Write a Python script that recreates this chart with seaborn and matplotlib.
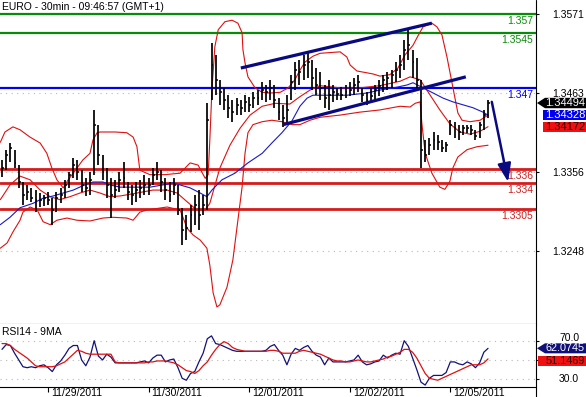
import numpy as np
import pandas as pd
import seaborn as sns
import matplotlib
matplotlib.use('Agg')
import matplotlib.pyplot as plt
from matplotlib.patches import Polygon
from matplotlib.lines import Line2D
from matplotlib.transforms import blended_transform_factory, offset_copy

sns.set_theme(style='white')
plt.rcParams['font.family'] = ['Liberation Sans', 'DejaVu Sans']

# ---------------- data ----------------
title = 'EURO - 30min - 09:46:57 (GMT+1)'
rsi_title = 'RSI14 - 9MA'
day_ticks = [11, 35, 59, 83, 107]
day_labels = ['11/29/2011', '11/30/2011', '12/01/2011', '12/02/2011', '12/05/2011']
price_ticks = [1.3571, 1.3463, 1.3356, 1.3248]
price_tick_labels = ['1.3571', '1.3463', '1.3356', '1.3248']
rsi_grid = [30, 50, 70]
rsi_label_vals = [30, 70]
rsi_tick_labels = ['30.0', '70.0']

high = [1.3372,1.3386,1.3395,1.3386,1.3365,1.3342,1.3338,1.3334,1.3331,1.3327,
        1.3324,1.3328,1.3320,1.3328,1.3334,1.3345,1.3356,1.3375,1.3372,1.3358,
        1.3347,1.3356,1.3440,1.3420,1.3379,1.3361,1.3347,1.3345,1.3356,1.3369,
        1.3342,1.3338,1.3342,1.3345,1.3352,1.3347,1.3361,1.3369,1.3358,1.3347,
        1.3342,1.3347,1.3338,1.3307,1.3297,1.3311,1.3324,1.3331,1.3324,1.3449,
        1.3531,1.3515,1.3481,1.3470,1.3460,1.3454,1.3456,1.3454,1.3460,1.3458,
        1.3464,1.3467,1.3478,1.3474,1.3481,1.3474,1.3456,1.3447,1.3460,1.3488,
        1.3505,1.3508,1.3515,1.3519,1.3508,1.3497,1.3492,1.3474,1.3481,1.3474,
        1.3470,1.3471,1.3474,1.3478,1.3483,1.3488,1.3470,1.3464,1.3470,1.3474,
        1.3481,1.3488,1.3492,1.3494,1.3505,1.3515,1.3535,1.3549,1.3522,1.3511,
        1.3481,1.3399,1.3402,1.3410,1.3406,1.3399,1.3396,1.3426,1.3424,1.3420,
        1.3420,1.3420,1.3420,1.3413,1.3424,1.3440,1.3454]
low = [1.3349,1.3358,1.3369,1.3361,1.3334,1.3311,1.3318,1.3315,1.3301,1.3308,
       1.3309,1.3311,1.3284,1.3301,1.3313,1.3320,1.3334,1.3347,1.3345,1.3328,
       1.3323,1.3324,1.3352,1.3365,1.3345,1.3320,1.3293,1.3320,1.3328,1.3334,
       1.3318,1.3311,1.3315,1.3320,1.3324,1.3324,1.3338,1.3345,1.3328,1.3318,
       1.3315,1.3324,1.3297,1.3256,1.3263,1.3274,1.3284,1.3277,1.3297,1.3304,
       1.3454,1.3460,1.3447,1.3440,1.3429,1.3424,1.3433,1.3433,1.3437,1.3437,
       1.3443,1.3447,1.3454,1.3451,1.3454,1.3443,1.3426,1.3417,1.3420,1.3454,
       1.3467,1.3474,1.3481,1.3483,1.3467,1.3460,1.3454,1.3443,1.3440,1.3451,
       1.3454,1.3454,1.3456,1.3459,1.3460,1.3464,1.3451,1.3447,1.3449,1.3454,
       1.3459,1.3464,1.3467,1.3470,1.3478,1.3483,1.3494,1.3508,1.3483,1.3467,
       1.3361,1.3369,1.3379,1.3386,1.3386,1.3383,1.3383,1.3406,1.3402,1.3399,
       1.3406,1.3409,1.3406,1.3399,1.3402,1.3413,1.3429]
close = [1.3361,1.3379,1.3388,1.3368,1.3342,1.3324,1.3328,1.3320,1.3318,1.3318,
         1.3320,1.3318,1.3304,1.3320,1.3324,1.3338,1.3352,1.3365,1.3356,1.3338,
         1.3334,1.3345,1.3420,1.3379,1.3356,1.3338,1.3324,1.3331,1.3345,1.3347,
         1.3328,1.3324,1.3331,1.3334,1.3338,1.3338,1.3352,1.3356,1.3342,1.3331,
         1.3324,1.3338,1.3304,1.3277,1.3279,1.3297,1.3311,1.3297,1.3311,1.3426,
         1.3501,1.3481,1.3464,1.3454,1.3443,1.3437,1.3447,1.3443,1.3451,1.3447,
         1.3456,1.3456,1.3467,1.3464,1.3470,1.3454,1.3437,1.3429,1.3440,1.3478,
         1.3494,1.3492,1.3501,1.3505,1.3483,1.3474,1.3470,1.3456,1.3460,1.3464,
         1.3462,1.3460,1.3464,1.3467,1.3474,1.3478,1.3460,1.3454,1.3459,1.3467,
         1.3473,1.3481,1.3483,1.3488,1.3494,1.3501,1.3522,1.3528,1.3505,1.3481,
         1.3386,1.3379,1.3392,1.3399,1.3396,1.3388,1.3392,1.3420,1.3415,1.3410,
         1.3415,1.3415,1.3413,1.3405,1.3420,1.3433,1.34494]

# Bollinger bands (red) read at sample positions (bar index)
up_x = [-0.4,0.7,2.6,4.3,6.7,9.1,10.7,11.9,13.1,14.6,15.8,17.0,19.3,21.0,21.7,22.7,23.4,27.0,29.8,31.3,
        32.2,32.9,35.3,38.9,42.5,44.9,46.8,48.5,49.2,49.6,50.1,50.8,51.6,53.2,54.9,56.3,57.3,57.5,58.0,58.7,
        60.4,62.1,64.0,66.4,68.3,69.9,71.1,72.3,74.2,75.9,80.7,82.3,83.1,84.7,88.5,90.2,92.6,94.5,96.2,98.1,
        99.3,100.5,102.6,103.8,105.0,106.2,107.6,108.8,109.8,111.7,114.1,116.0]
up_y = [1.3396,1.3410,1.3417,1.3413,1.3403,1.3395,1.3381,1.3361,1.3345,1.3334,1.3345,1.3354,1.3372,1.3381,1.3399,1.3409,1.3410,1.3410,1.3409,1.3403,
        1.3390,1.3358,1.3352,1.3352,1.3354,1.3368,1.3365,1.3347,1.3352,1.3399,1.3467,1.3526,1.3549,1.3560,1.3562,1.3558,1.3545,1.3522,1.3504,1.3485,
        1.3470,1.3464,1.3463,1.3464,1.3470,1.3481,1.3494,1.3505,1.3513,1.3517,1.3519,1.3512,1.3501,1.3493,1.3489,1.3486,1.3488,1.3497,1.3515,1.3528,
        1.3541,1.3553,1.3558,1.3553,1.3542,1.3512,1.3471,1.3436,1.3426,1.3424,1.3426,1.3433]
lo_x = [-0.4,1.2,2.6,4.3,5.0,6.7,8.4,9.8,11.5,13.1,15.5,17.9,21.0,24.1,26.5,29.8,31.3,32.9,34.6,39.4,
        42.5,44.2,45.6,47.3,48.9,49.6,50.4,51.3,52.0,53.7,55.1,56.3,57.3,58.0,58.7,59.9,62.1,64.4,66.8,69.2,
        71.1,73.5,75.9,80.7,85.4,90.2,95.0,97.4,98.6,99.8,100.2,101.0,102.6,104.5,105.7,106.9,107.6,108.8,111.0,113.4,
        116.0]
lo_y = [1.3252,1.3259,1.3274,1.3290,1.3301,1.3308,1.3304,1.3288,1.3284,1.3290,1.3293,1.3290,1.3289,1.3293,1.3294,1.3293,1.3290,1.3301,1.3304,1.3308,
        1.3304,1.3279,1.3270,1.3263,1.3252,1.3229,1.3191,1.3172,1.3175,1.3199,1.3236,1.3290,1.3335,1.3381,1.3409,1.3420,1.3424,1.3426,1.3424,1.3420,
        1.3420,1.3426,1.3430,1.3433,1.3437,1.3440,1.3445,1.3444,1.3449,1.3451,1.3422,1.3381,1.3354,1.3335,1.3332,1.3343,1.3361,1.3376,1.3386,1.3390,
        1.3392]
mid_x = [-0.4,1.9,4.3,6.7,9.1,11.5,13.8,16.2,18.6,21.0,23.4,25.8,28.2,32.2,36.0,39.4,41.8,44.2,46.5,48.5,
         49.6,52.0,54.4,56.8,59.2,62.1,65.2,68.7,71.1,73.5,75.9,80.7,85.4,90.2,95.0,97.4,99.8,102.2,104.5,106.9,
         109.3,111.7,114.1,116.0]
mid_y = [1.3318,1.3338,1.3350,1.3345,1.3331,1.3322,1.3318,1.3322,1.3327,1.3331,1.3327,1.3322,1.3323,1.3327,1.3331,1.3331,1.3327,1.3315,1.3304,1.3304,
         1.3313,1.3361,1.3392,1.3415,1.3433,1.3445,1.3449,1.3448,1.3458,1.3467,1.3473,1.3470,1.3470,1.3473,1.3479,1.3485,1.3481,1.3460,1.3440,1.3421,
         1.3410,1.3407,1.3411,1.34172]
# Moving average (blue)
ma_x = [-0.4,1.9,4.3,7.4,9.8,12.2,14.6,17.0,19.3,21.7,24.1,25.8,28.2,31.3,35.3,39.4,40.8,42.5,44.9,47.3,
        48.9,50.1,52.5,55.6,58.7,62.1,64.4,66.8,69.2,71.1,72.8,74.2,78.3,82.3,87.1,90.2,94.3,96.7,98.1,100.5,
        102.9,105.3,107.6,110.0,112.4,114.8,116.0]
ma_y = [1.3284,1.3294,1.3307,1.3313,1.3320,1.3323,1.3327,1.3331,1.3337,1.3342,1.3342,1.3338,1.3335,1.3335,1.3335,1.3339,1.3341,1.3338,1.3334,1.3327,
        1.3322,1.3331,1.3345,1.3354,1.3368,1.3381,1.3395,1.3409,1.3425,1.3445,1.3456,1.3460,1.3460,1.3460,1.3463,1.3467,1.3471,1.3474,1.3477,1.3470,
        1.3463,1.3456,1.3451,1.3447,1.3443,1.3437,1.34328]

rsi = [61,66,65,57,50,43,42,43,42,44,
       45,42,38,45,49,55,62,65,65,50,
       44,53,70,54,50,56,53,47,47,47,
       47,47,47,48,49,47,52,55,55,48,
       50,51,42,31,29,36,38,48,57,72,
       75,67,66,64,62,60,59,59,59,59,
       59,59,59,60,64,66,60,55,45,56,
       62,60,63,65,59,55,53,45,52,48,
       48,48,48,49,50,55,48,45,46,48,
       49,55,52,55,57,56,70,64,52,40,
       27,24,31,34,34,34,37,48,48,46,
       45,48,46,42,47,58,62.0745]
rsi_ma = [67,67,65,61,58,55,52,48,44,43,
          43,43,43,44,46,48,52,56,60,59,
          57,56,56,56,56,56,56,48,47,47,
          47,47,47,47,47,48,48,49,49,49,
          48,47,45,42,39,38,36,39,44,48,
          55,61,66,69,67,63,61,60,59,59,
          59,59,59,59,60,60,59,57,57,57,
          57,59,60,59,58,57,56,54,52,50,
          49,49,48,48,49,50,49,48,48,49,
          50,51,53,54,56,58,61,61,58,52,
          44,36,31,30,29,31,33,35,37,39,
          41,43,45,45,45,47,51.1469]

levels = [1.357, 1.3545, 1.347, 1.336, 1.334, 1.3305]
level_labels = ['1.357', '1.3545', '1.347', '1.336', '1.334', '1.3305']
level_colors = ['#0a8a0a', '#0a8a0a', '#0000ee', '#d41c1c', '#d41c1c', '#d41c1c']

trend_up = ([57.0, 102.6], [1.3497, 1.3558])
trend_lo = ([67.1, 110.7], [1.3420, 1.3485])
arrow_from = (116.9, 1.3451)
arrow_to = (120.8, 1.3342)

# ---------------- layout ----------------
W, H = 586, 397
YTOP, YBOT = 1.35895, 1.31489
RTOP, RBOT = 87.3, 22.3
XL, XR = -0.48, 127.45

fig = plt.figure(figsize=(W / 100, H / 100), dpi=100)
fig.patch.set_facecolor('white')
ax = fig.add_axes([0, 1 - 324 / H, 536 / W, 324 / H])
ax2 = fig.add_axes([0, 1 - 386.7 / H, 536 / W, 62.7 / H])

for a in (ax, ax2):
    a.set_facecolor('white')
    for s in a.spines.values():
        s.set_visible(False)
    a.spines['bottom'].set_visible(True)
    a.spines['bottom'].set_color('black')
    a.spines['bottom'].set_linewidth(0.8)
    a.set_xlim(XL, XR)
    a.set_axisbelow(True)

ax.set_ylim(YBOT, YTOP)
ax2.set_ylim(RBOT, RTOP)

idx = np.arange(len(close))

# grid
dots = (0, (1, 4))
ax.set_yticks(price_ticks)
ax.set_yticklabels(price_tick_labels)
ax.grid(axis='y', color='#b8b8b8', linestyle=dots, lw=0.8)
ax.grid(axis='x', visible=False)
ax2.set_yticks(rsi_grid)
ax2.set_yticklabels([])
ax2.grid(axis='y', color='#b8b8b8', linestyle=dots, lw=0.8)
ax2.grid(axis='x', visible=False)

ax.yaxis.tick_right()
ax.tick_params(axis='y', right=True, left=False, labelright=True, labelleft=False,
               length=2.5, width=0.8, pad=9.5, labelsize=7.5, colors='black')
ax2.yaxis.tick_right()
ax2.tick_params(axis='y', right=True, left=False, labelright=False, labelleft=False,
                length=2.5, width=0.8, colors='black')
for v, lab in zip(rsi_label_vals, rsi_tick_labels):
    dy = 3 if v == 70 else 0
    ax2.annotate(lab, xy=(1, v), xycoords=('axes fraction', 'data'), xytext=(23, dy),
                 textcoords='offset pixels', ha='left', va='center', fontsize=7.5,
                 color='black', annotation_clip=False)

ax.set_xticks([])
ax2.set_xticks(day_ticks)
ax2.set_xticklabels([])
ax2.tick_params(axis='x', bottom=True, length=3.5, width=0.8, color='black')
for t, lab in zip(day_ticks, day_labels):
    ax2.annotate(lab, xy=(t, 0), xycoords=('data', 'axes fraction'), xytext=(3, -1),
                 textcoords='offset pixels', ha='left', va='top', fontsize=7.5, color='black',
                 annotation_clip=False)

# horizontal levels
for v, lab, c in zip(levels, level_labels, level_colors):
    lw = 2.0 if c == '#d41c1c' else 1.6
    ax.axhline(v, color=c, lw=lw, zorder=1.5)
    ax.annotate(lab, xy=(1, v), xycoords=('axes fraction', 'data'), xytext=(-3, -2),
                textcoords='offset pixels', ha='right', va='top', fontsize=7.5, color=c)

# bands and moving average
band_kw = dict(ax=ax, color='#e01010', lw=0.8, estimator=None, sort=False, legend=False, zorder=2)
sns.lineplot(x=up_x, y=up_y, **band_kw)
sns.lineplot(x=lo_x, y=lo_y, **band_kw)
sns.lineplot(x=mid_x, y=mid_y, **band_kw)
sns.lineplot(x=ma_x, y=ma_y, ax=ax, color='#1a1ac8', lw=0.8, estimator=None, sort=False,
             legend=False, zorder=2.2)

# price bars
ax.vlines(idx, low, high, color='black', lw=1.25, zorder=3)
ax.hlines(close, idx, idx + 0.45, color='black', lw=1.1, zorder=3)

# trendlines and arrow
ax.plot(*trend_up, color='#0a0a80', lw=2.3, solid_capstyle='butt', zorder=4)
ax.plot(*trend_lo, color='#0a0a80', lw=2.3, solid_capstyle='butt', zorder=4)
ax.annotate('', xy=arrow_to, xytext=arrow_from, annotation_clip=False,
            arrowprops=dict(arrowstyle='-|>,head_length=0.55,head_width=0.2', color='#0a0a80',
                            lw=1.8, mutation_scale=20, shrinkA=0, shrinkB=0), zorder=4)

# RSI panel
sns.lineplot(x=idx, y=rsi, ax=ax2, color='#12127a', lw=0.9, estimator=None, sort=False, legend=False)
sns.lineplot(x=idx, y=rsi_ma, ax=ax2, color='#e01010', lw=0.9, estimator=None, sort=False, legend=False)
for a in (ax, ax2):
    a.set_xlabel('')
    a.set_ylabel('')

# texts
fig.text(2 / W, 1 - 6.5 / H, title, ha='left', va='center', fontsize=7.5, color='black')
fig.text(2 / W, 1 - 332 / H, rsi_title, ha='left', va='center', fontsize=7.5, color='black')

# full-height right border
fig.add_artist(Line2D([536 / W, 536 / W], [0, 1], color='black', lw=0.8))

# value boxes
tr_p = blended_transform_factory(fig.transFigure, ax.transData)
tr_r = blended_transform_factory(fig.transFigure, ax2.transData)
hp = 5.2 * (YTOP - YBOT) / 324
hr = 5.0 * (RTOP - RBOT) / 62.7


def value_box(v, tr, hh, face, txt, tcol, x0, pointer, shift_px=0, fs=8):
    t = offset_copy(tr, fig=fig, x=0, y=shift_px, units='dots')
    if pointer:
        pts = [(537 / W, v), (545 / W, v + hh), (586 / W, v + hh), (586 / W, v - hh), (545 / W, v - hh)]
    else:
        pts = [(x0 / W, v + hh), (586 / W, v + hh), (586 / W, v - hh), (x0 / W, v - hh)]
    fig.add_artist(Polygon(pts, closed=True, transform=t, facecolor=face, edgecolor='none'))
    fig.text(585 / W, v, txt, transform=t, ha='right', va='center', fontsize=fs, color=tcol)


value_box(close[-1], tr_p, hp, 'black', f'{close[-1]:.5f}', 'white', 537, True)
value_box(ma_y[-1], tr_p, hp, '#0000f0', f'{ma_y[-1]:.5f}', 'white', 543, False)
value_box(mid_y[-1], tr_p, hp, '#ee1111', f'{mid_y[-1]:.5f}', '#300000', 543, False)
value_box(rsi[-1], tr_r, hr, '#10107a', f'{rsi[-1]:.4f}', 'white', 537, True, fs=7.8)
value_box(rsi_ma[-1], tr_r, hr, '#ee1111', f'{rsi_ma[-1]:.4f}', '#300000', 538, False,
          shift_px=-2.5, fs=7.8)

fig.savefig('out.png', dpi=100, facecolor='white')
